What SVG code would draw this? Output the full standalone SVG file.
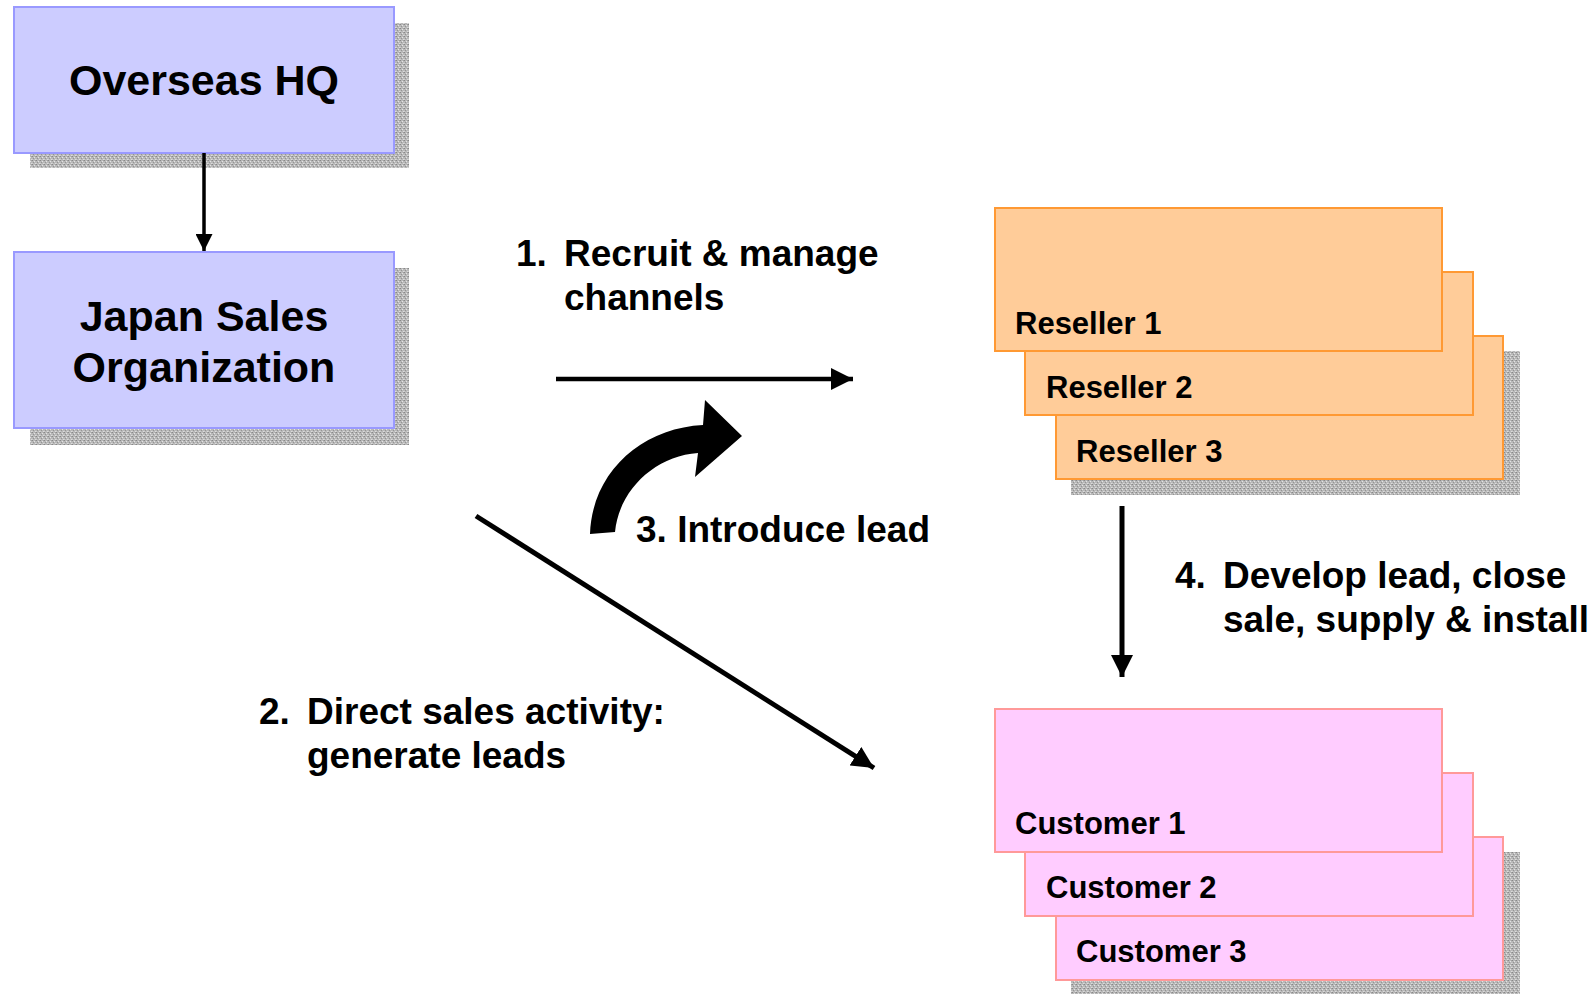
<svg xmlns="http://www.w3.org/2000/svg" width="1595" height="994" viewBox="0 0 1595 994">
<defs>
<pattern id="stip" width="4" height="4" patternUnits="userSpaceOnUse">
<rect width="4" height="4" fill="#b8b8b8"/>
<rect x="0" y="0" width="1" height="1" fill="#888888"/>
<rect x="2" y="1" width="1" height="1" fill="#e4e4e4"/>
<rect x="1" y="2" width="1" height="1" fill="#949494"/>
<rect x="3" y="3" width="1" height="1" fill="#dcdcdc"/>
<rect x="3" y="0" width="1" height="1" fill="#a0a0a0"/>
<rect x="0" y="3" width="1" height="1" fill="#cccccc"/>
</pattern>
<marker id="ah" viewBox="0 0 10 10" refX="10" refY="5" markerWidth="22" markerHeight="22" markerUnits="userSpaceOnUse" orient="auto">
<path d="M0,0 L10,5 L0,10 Z" fill="#000"/>
</marker>
<marker id="ahs" viewBox="0 0 10 10" refX="10" refY="5" markerWidth="17" markerHeight="17" markerUnits="userSpaceOnUse" orient="auto">
<path d="M0,0 L10,5 L0,10 Z" fill="#000"/>
</marker>
</defs>
<style>
.shadow{fill:url(#stip);}
.blue{fill:#CCCCFF;stroke:#9999FF;stroke-width:2;}
.orange{fill:#FFCC99;stroke:#FF9933;stroke-width:2;}
.pink{fill:#FFCCFF;stroke:#FF9999;stroke-width:2;}
text{font-family:"Liberation Sans",Arial,sans-serif;font-weight:bold;fill:#000;}
.big{font-size:43px;}
.lbl{font-size:37px;}
.sm{font-size:31px;}
.conn{stroke:#000;fill:none;}
</style>
<rect width="1595" height="994" fill="#fff"/>

<g id="overseas-hq">
<rect class="shadow" x="30" y="23" width="379" height="145"/>
<rect class="blue" x="14" y="7" width="380" height="146"/>
<text class="big" x="204" y="95" text-anchor="middle">Overseas HQ</text>
</g>

<g id="japan-sales">
<rect class="shadow" x="30" y="268" width="379" height="177"/>
<rect class="blue" x="14" y="252" width="380" height="176"/>
<text class="big" x="204" y="331" text-anchor="middle">Japan Sales</text>
<text class="big" x="204" y="382" text-anchor="middle">Organization</text>
</g>

<g id="resellers">
<rect class="shadow" x="1071" y="351" width="449" height="144"/>
<rect class="orange" x="1056" y="336" width="447" height="143"/>
<rect class="orange" x="1025" y="272" width="448" height="143"/>
<rect class="orange" x="995" y="208" width="447" height="143"/>
<text class="sm" x="1015" y="334">Reseller 1</text>
<text class="sm" x="1046" y="398">Reseller 2</text>
<text class="sm" x="1076" y="462">Reseller 3</text>
</g>

<g id="customers">
<rect class="shadow" x="1071" y="852" width="449" height="144"/>
<rect class="pink" x="1056" y="837" width="447" height="143"/>
<rect class="pink" x="1025" y="773" width="448" height="143"/>
<rect class="pink" x="995" y="709" width="447" height="143"/>
<text class="sm" x="1015" y="834">Customer 1</text>
<text class="sm" x="1046" y="898">Customer 2</text>
<text class="sm" x="1076" y="962">Customer 3</text>
</g>

<g id="connectors">
<line class="conn" x1="204" y1="153" x2="204" y2="251" stroke-width="3.5" marker-end="url(#ahs)"/>
<line class="conn" x1="556" y1="379" x2="853" y2="379" stroke-width="4.5" marker-end="url(#ah)"/>
<line class="conn" x1="1122" y1="506" x2="1122" y2="677" stroke-width="5" marker-end="url(#ah)"/>
<line class="conn" x1="476" y1="516" x2="874" y2="768" stroke-width="5" marker-end="url(#ah)"/>
<path id="curved-arrow" d="M590,534 C592,472 642,428 703,425 L705,400 L742,436 L695,477 L698,453 C655,456 619,490 615,532 Z" fill="#000"/>
</g>

<g id="labels">
<text class="lbl" y="266"><tspan x="516">1.</tspan><tspan x="564">Recruit &amp; manage</tspan></text>
<text class="lbl" x="564" y="310">channels</text>
<text class="lbl" x="636" y="542">3. Introduce lead</text>
<text class="lbl" y="588"><tspan x="1175">4.</tspan><tspan x="1223">Develop lead, close</tspan></text>
<text class="lbl" x="1223" y="632">sale, supply &amp; install</text>
<text class="lbl" y="724"><tspan x="259">2.</tspan><tspan x="307">Direct sales activity:</tspan></text>
<text class="lbl" x="307" y="768">generate leads</text>
</g>
</svg>
